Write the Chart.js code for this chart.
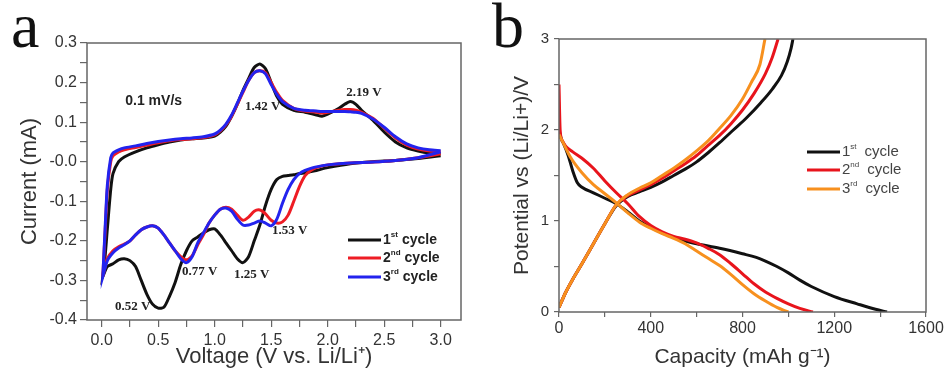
<!DOCTYPE html>
<html>
<head>
<meta charset="utf-8">
<script src="https://cdn.jsdelivr.net/npm/chart.js@4.4.1/dist/chart.umd.min.js"></script>
<style>
  html, body { margin: 0; padding: 0; background: #fff; }
  #wrap { position: relative; width: 948px; height: 376px; overflow: hidden; }
  .box { position: absolute; top: 0; width: 474px; height: 376px; }
  #boxA { left: 0; }
  #boxB { left: 474px; }
</style>
</head>
<body>
<div id="wrap">
  <div class="box" id="boxA"><canvas id="cvA" width="474" height="376"></canvas></div>
  <div class="box" id="boxB"><canvas id="cvB" width="474" height="376"></canvas></div>
</div>
<script>
// ---- panel a : cyclic voltammetry, 0.1 mV/s ----
// cathodic scan (3.0 V -> 0.01 V)
const cvDownV = [3.0, 2.8, 2.6, 2.4, 2.2, 2.0, 1.9, 1.85, 1.8, 1.75, 1.7, 1.65, 1.6, 1.55,
  1.5, 1.45, 1.4, 1.35, 1.3, 1.25, 1.2, 1.15, 1.1, 1.05, 1.0,
  0.95, 0.9, 0.85, 0.8, 0.75, 0.7, 0.65, 0.6, 0.55, 0.5,
  0.45, 0.4, 0.35, 0.3, 0.25, 0.2, 0.15, 0.1, 0.05, 0.01];
const cycle1Down = [0.015, 0.008, 0.003, 0.0, -0.005, -0.015, -0.022, -0.025, -0.028, -0.03, -0.033, -0.035, -0.037, -0.045,
  -0.07, -0.11, -0.16, -0.2, -0.24, -0.255, -0.245, -0.225, -0.205, -0.185, -0.17,
  -0.172, -0.18, -0.19, -0.2, -0.225, -0.26, -0.305, -0.34, -0.368, -0.37,
  -0.36, -0.335, -0.3, -0.265, -0.25, -0.245, -0.248, -0.258, -0.265, -0.29];
const cycle2Down = [0.02, 0.01, 0.003, -0.001, -0.003, -0.008, -0.015, -0.022, -0.035, -0.063, -0.1, -0.135, -0.152, -0.155,
  -0.148, -0.132, -0.122, -0.125, -0.14, -0.148, -0.135, -0.12, -0.115, -0.12, -0.135,
  -0.155, -0.185, -0.21, -0.238, -0.248, -0.24, -0.225, -0.205, -0.185, -0.168,
  -0.162, -0.165, -0.172, -0.185, -0.2, -0.208, -0.215, -0.225, -0.245, -0.29];
const cycle3Down = [0.025, 0.01, 0.003, -0.001, -0.003, -0.008, -0.013, -0.017, -0.022, -0.03, -0.045, -0.07, -0.105, -0.145,
  -0.162, -0.155, -0.15, -0.155, -0.16, -0.16, -0.145, -0.125, -0.117, -0.12, -0.135,
  -0.155, -0.18, -0.205, -0.24, -0.255, -0.245, -0.225, -0.205, -0.185, -0.168,
  -0.162, -0.165, -0.172, -0.185, -0.2, -0.21, -0.218, -0.23, -0.25, -0.29];
// anodic scan (0.01 V -> 3.0 V)
const cvUpV = [0.01, 0.03, 0.05, 0.08, 0.1, 0.15, 0.2, 0.3, 0.4, 0.5, 0.6, 0.7, 0.8, 0.9, 1.0,
  1.05, 1.1, 1.15, 1.2, 1.25, 1.3, 1.35, 1.4, 1.45, 1.5, 1.55, 1.6,
  1.7, 1.8, 1.9, 1.95, 2.0,
  2.1, 2.15, 2.2, 2.25, 2.3,
  2.4, 2.5, 2.6, 2.7, 2.8, 2.9, 3.0];
const cycle1Up = [-0.29, -0.24, -0.17, -0.07, -0.03, 0.0, 0.012, 0.025, 0.035, 0.043, 0.05, 0.055, 0.058, 0.06, 0.065,
  0.075, 0.09, 0.115, 0.145, 0.18, 0.21, 0.238, 0.247, 0.235, 0.2, 0.165, 0.145,
  0.13, 0.125, 0.118, 0.115, 0.12,
  0.135, 0.145, 0.152, 0.145, 0.13,
  0.105, 0.075, 0.05, 0.035, 0.027, 0.022, 0.02];
const cycle2Up = [-0.29, -0.18, -0.07, 0.0, 0.015, 0.025, 0.03, 0.036, 0.042, 0.048, 0.053, 0.056, 0.058, 0.061, 0.068,
  0.078, 0.093, 0.115, 0.145, 0.175, 0.205, 0.225, 0.23, 0.225, 0.2, 0.175, 0.155,
  0.135, 0.128, 0.125, 0.123, 0.125,
  0.13, 0.132, 0.132, 0.13, 0.125,
  0.11, 0.085, 0.06, 0.042, 0.032, 0.027, 0.025];
const cycle3Up = [-0.29, -0.17, -0.06, 0.01, 0.022, 0.03, 0.035, 0.04, 0.046, 0.051, 0.055, 0.058, 0.06, 0.063, 0.07,
  0.08, 0.095, 0.118, 0.148, 0.178, 0.205, 0.225, 0.23, 0.222, 0.195, 0.17, 0.152,
  0.135, 0.13, 0.128, 0.127, 0.127,
  0.127, 0.127, 0.126, 0.125, 0.122,
  0.108, 0.087, 0.063, 0.045, 0.035, 0.03, 0.028];

// ---- panel b : charge / discharge profiles ----
const dis1Cap = [0, 10, 20, 40, 60, 80, 100, 150, 200, 250, 300, 350, 400, 450, 500, 550, 600,
  700, 800, 860, 900, 950, 1000, 1050, 1100, 1200, 1300, 1380, 1430];
const dis1U = [2.0, 1.9, 1.85, 1.72, 1.55, 1.42, 1.37, 1.31, 1.25, 1.19, 1.1, 1.0, 0.93, 0.87, 0.82, 0.78, 0.75,
  0.7, 0.64, 0.6, 0.56, 0.5, 0.43, 0.35, 0.28, 0.17, 0.09, 0.03, 0.0];
const dis2Cap = [0, 5, 15, 30, 60, 100, 150, 200, 250, 300, 350, 400, 450, 500, 550, 600, 650,
  700, 750, 800, 850, 900, 950, 1000, 1050, 1107];
const dis2U = [2.5, 2.0, 1.88, 1.82, 1.76, 1.69, 1.58, 1.44, 1.31, 1.19, 1.05, 0.95, 0.88, 0.83, 0.8, 0.76, 0.7,
  0.63, 0.53, 0.42, 0.31, 0.22, 0.15, 0.09, 0.04, 0.0];
const dis3Cap = [0, 20, 50, 100, 150, 200, 250, 300, 350, 400, 450, 500, 550, 600, 650, 700, 750,
  800, 850, 900, 950, 1000];
const dis3U = [1.95, 1.85, 1.7, 1.53, 1.4, 1.3, 1.2, 1.09, 0.99, 0.92, 0.86, 0.81, 0.75, 0.67, 0.59, 0.51, 0.41,
  0.3, 0.2, 0.12, 0.05, 0.0];
const chg1Cap = [0, 30, 60, 100, 150, 200, 250, 300, 350, 400, 450, 500, 550, 600, 650, 700, 760,
  820, 880, 930, 970, 995, 1012, 1020];
const chg1U = [0.05, 0.22, 0.36, 0.53, 0.75, 0.97, 1.17, 1.27, 1.32, 1.37, 1.43, 1.5, 1.57, 1.65, 1.75, 1.86, 2.0,
  2.14, 2.3, 2.45, 2.6, 2.75, 2.9, 3.0];
const chg2Cap = [0, 30, 60, 100, 150, 200, 250, 300, 350, 400, 450, 500, 550, 600, 650, 700, 750,
  800, 850, 900, 930, 955];
const chg2U = [0.05, 0.22, 0.36, 0.53, 0.75, 0.97, 1.18, 1.28, 1.34, 1.4, 1.47, 1.55, 1.63, 1.72, 1.83, 1.94, 2.07,
  2.22, 2.4, 2.62, 2.8, 3.0];
const chg3Cap = [0, 30, 60, 100, 150, 200, 250, 300, 350, 400, 450, 500, 550, 600, 650, 694, 750,
  800, 840, 876, 898];
const chg3U = [0.05, 0.22, 0.36, 0.53, 0.75, 0.97, 1.18, 1.29, 1.36, 1.42, 1.5, 1.58, 1.67, 1.77, 1.88, 2.0, 2.16,
  2.34, 2.53, 2.72, 3.0];

const cycleNames = [["1", "st"], ["2", "nd"], ["3", "rd"]];
const coloursA = ["#111111", "#ee1c24", "#2323ee"];
const coloursB = ["#111111", "#e8141c", "#f7901e"];

const SANS = '"Liberation Sans", Arial, sans-serif';
const SERIF = '"Liberation Serif", "Times New Roman", serif';

function pts(xs, ys) {
  return xs.map((x, i) => ({ x: x, y: ys[i] }));
}

function isMultiple(v, step) {
  return Math.abs(v / step - Math.round(v / step)) < 1e-6;
}

function legendRow(ctx, x1, x2, y, colour, cyc, o) {
  ctx.save();
  ctx.strokeStyle = colour;
  ctx.lineWidth = 3;
  ctx.beginPath();
  ctx.moveTo(x1, y);
  ctx.lineTo(x2, y);
  ctx.stroke();
  ctx.fillStyle = o.color;
  ctx.textAlign = "left";
  ctx.textBaseline = "middle";
  ctx.font = o.font;
  let x = x2 + 2;
  ctx.fillText(cyc[0], x, y);
  x += ctx.measureText(cyc[0]).width;
  ctx.font = o.supFont;
  ctx.fillText(cyc[1], x, y - 5);
  x += ctx.measureText(cyc[1]).width + o.gap;
  ctx.font = o.font;
  ctx.fillText("cycle", x, y);
  ctx.restore();
}

function frame(chart) {
  const a = chart.chartArea, ctx = chart.ctx;
  ctx.save();
  ctx.strokeStyle = "#666";
  ctx.lineWidth = 1.5;
  ctx.strokeRect(a.left, a.top, a.right - a.left, a.bottom - a.top);
  ctx.restore();
}

const decoA = {
  id: "decoA",
  afterDraw(chart) {
    const ctx = chart.ctx, xs = chart.scales.x, ys = chart.scales.y;
    frame(chart);
    ctx.save();
    ctx.fillStyle = "#111";
    ctx.font = "64px " + SERIF;
    ctx.textAlign = "left";
    ctx.textBaseline = "alphabetic";
    ctx.fillText("a", 11, 47);

    ctx.textAlign = "center";
    ctx.textBaseline = "middle";
    ctx.fillStyle = "#222";
    ctx.font = "bold 14px " + SANS;
    ctx.fillText("0.1 mV/s", xs.getPixelForValue(0.46), ys.getPixelForValue(0.152));
    ctx.font = "bold 13px " + SERIF;
    const notes = [["1.42 V", 1.425, 0.139], ["2.19 V", 2.32, 0.174], ["1.53 V", 1.664, -0.174],
      ["0.77 V", 0.867, -0.278], ["1.25 V", 1.327, -0.285], ["0.52 V", 0.274, -0.366]];
    notes.forEach(n => ctx.fillText(n[0], xs.getPixelForValue(n[1]), ys.getPixelForValue(n[2])));
    ctx.restore();

    const rowsY = [240, 258, 277];
    for (let k = 0; k < 3; k++) {
      legendRow(ctx, 348, 381, rowsY[k], coloursA[k], cycleNames[k],
        { color: "#222", font: "bold 14px " + SANS, supFont: "bold 8px " + SANS, gap: 4 });
    }
  }
};

const decoB = {
  id: "decoB",
  afterDraw(chart) {
    const ctx = chart.ctx;
    frame(chart);
    ctx.save();
    ctx.fillStyle = "#111";
    ctx.font = "64px " + SERIF;
    ctx.textAlign = "left";
    ctx.textBaseline = "alphabetic";
    ctx.fillText("b", 18, 47);
    ctx.restore();
    const rowsY = [152, 170, 189];
    for (let k = 0; k < 3; k++) {
      legendRow(ctx, 333, 366, rowsY[k], coloursB[k], cycleNames[k],
        { color: "#444", font: "15px " + SANS, supFont: "8px " + SANS, gap: 8 });
    }
  }
};

Chart.defaults.font.family = SANS;
Chart.defaults.color = "#333";

const gridOpts = { drawOnChartArea: false, drawTicks: true, tickLength: 7, color: "#666", lineWidth: 1.2 };

// panel a
const cyclesDown = [cycle1Down, cycle2Down, cycle3Down];
const cyclesUp = [cycle1Up, cycle2Up, cycle3Up];
const dsA = [];
for (let k = 0; k < 3; k++) {
  dsA.push({
    label: cycleNames[k].join("") + " cycle",
    data: pts(cvDownV, cyclesDown[k]).concat(pts(cvUpV, cyclesUp[k])),
    borderColor: coloursA[k],
    borderWidth: 3,
    pointRadius: 0,
    showLine: true,
    tension: 0.25,
    order: 2 - k
  });
}

new Chart(document.getElementById("cvA"), {
  type: "scatter",
  data: { datasets: dsA },
  plugins: [decoA],
  options: {
    responsive: false,
    animation: false,
    layout: { padding: { top: 43, right: 13, left: 0, bottom: 0 } },
    plugins: { legend: { display: false }, tooltip: { enabled: false } },
    scales: {
      x: {
        type: "linear",
        min: -0.13,
        max: 3.18,
        afterFit: s => { s.height = 56; },
        afterBuildTicks: s => { s.ticks = s.ticks.filter(t => t.value > -0.01 && t.value < 3.01 && isMultiple(t.value, 0.25)); },
        ticks: {
          stepSize: 0.25,
          includeBounds: false,
          autoSkip: false,
          maxRotation: 0,
          padding: 4,
          color: "#333",
          font: { size: 16 },
          callback: v => isMultiple(v, 0.5) ? v.toFixed(1) : ""
        },
        grid: gridOpts,
        border: { display: false },
        title: { display: true, text: "Voltage (V vs. Li/Li\u207A)", color: "#333", font: { size: 22 }, padding: { top: 0, bottom: 6 } }
      },
      y: {
        type: "linear",
        min: -0.4,
        max: 0.3,
        afterFit: s => { s.width = 87; },
        ticks: {
          stepSize: 0.05,
          autoSkip: false,
          padding: 3,
          color: "#333",
          font: { size: 16 },
          callback: v => isMultiple(v, 0.1) ? v.toFixed(1) : ""
        },
        grid: gridOpts,
        border: { display: false },
        title: { display: true, text: "Current (mA)", color: "#333", font: { size: 22 }, padding: { top: 17, bottom: 0 } }
      }
    }
  }
});

// panel b
const disCaps = [dis1Cap, dis2Cap, dis3Cap], disUs = [dis1U, dis2U, dis3U];
const chgCaps = [chg1Cap, chg2Cap, chg3Cap], chgUs = [chg1U, chg2U, chg3U];
const dsB = [];
for (let k = 0; k < 3; k++) {
  const base = { borderColor: coloursB[k], borderWidth: 3, pointRadius: 0, showLine: true,
    cubicInterpolationMode: "monotone", order: 2 - k };
  dsB.push(Object.assign({ label: cycleNames[k].join("") + " discharge", data: pts(disCaps[k], disUs[k]) }, base));
  dsB.push(Object.assign({ label: cycleNames[k].join("") + " charge", data: pts(chgCaps[k], chgUs[k]) }, base));
}

new Chart(document.getElementById("cvB"), {
  type: "scatter",
  data: { datasets: dsB },
  plugins: [decoB],
  options: {
    responsive: false,
    animation: false,
    layout: { padding: { top: 39, right: 22, left: 0, bottom: 0 } },
    plugins: { legend: { display: false }, tooltip: { enabled: false } },
    scales: {
      x: {
        type: "linear",
        min: 0,
        max: 1600,
        afterFit: s => { s.height = 64; },
        ticks: {
          stepSize: 200,
          autoSkip: false,
          maxRotation: 0,
          padding: 2,
          color: "#333",
          font: { size: 16 },
          callback: v => isMultiple(v, 400) ? String(v) : ""
        },
        grid: Object.assign({}, gridOpts, { tickLength: 5 }),
        border: { display: false },
        title: { display: true, text: "Capacity (mAh g\u207B\u00B9)", color: "#333", font: { size: 21 }, padding: { top: 0, bottom: 6 } }
      },
      y: {
        type: "linear",
        min: 0,
        max: 3,
        afterFit: s => { s.width = 85; },
        ticks: {
          stepSize: 0.5,
          autoSkip: false,
          padding: 5,
          color: "#333",
          font: { size: 15 },
          callback: v => isMultiple(v, 1) ? String(v) : ""
        },
        grid: Object.assign({}, gridOpts, { tickLength: 5 }),
        border: { display: false },
        title: { display: true, text: "Potential vs (Li/Li+)/V", color: "#333", font: { size: 21 }, padding: { top: 36, bottom: 0 } }
      }
    }
  }
});
</script>
</body>
</html>
